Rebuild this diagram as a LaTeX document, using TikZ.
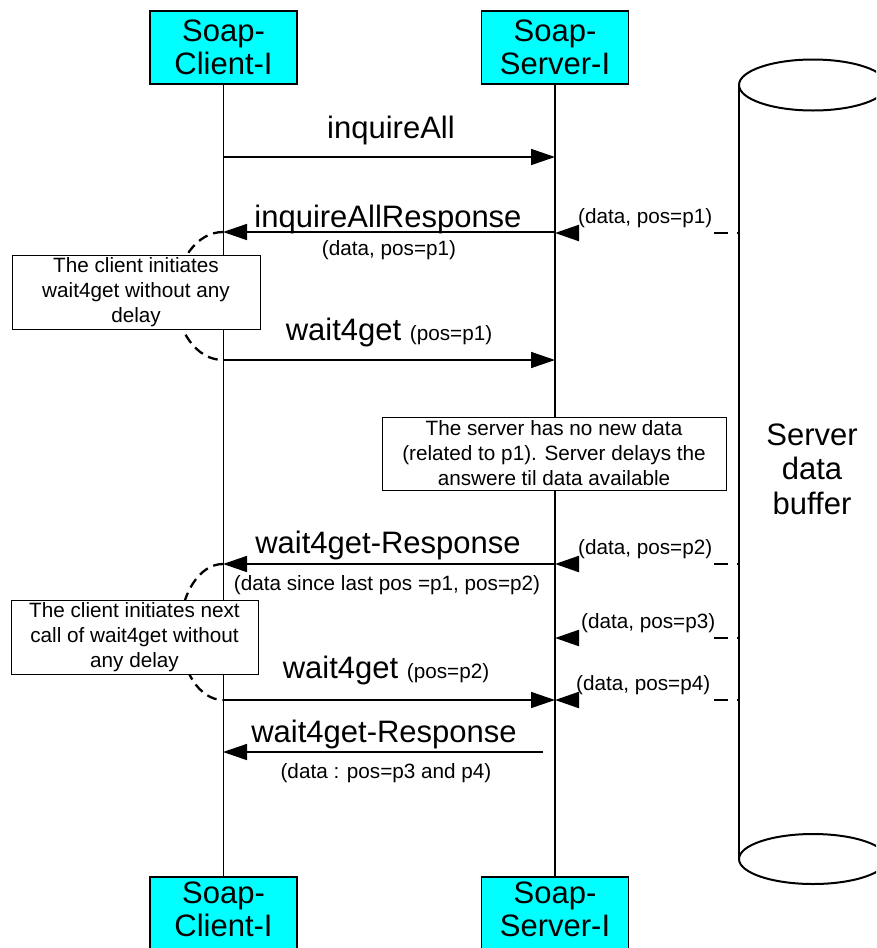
\documentclass[tikz,border=0pt]{standalone}
\usepackage{fontspec}
\setmainfont{Liberation Sans}
\usetikzlibrary{arrows.meta}
\definecolor{actorfill}{RGB}{0,255,255}
\newcommand{\bigtxt}{\fontsize{31}{36}\selectfont}
\newcommand{\smalltxt}{\fontsize{20.7}{25}\selectfont}
\begin{document}
\begin{tikzpicture}[x=1pt,y=-1pt,
  actor/.style={draw=black, line width=1.6pt, fill=actorfill, minimum width=147pt,
    minimum height=73pt, inner sep=0pt, align=center,
    font=\fontsize{31}{33.5}\selectfont},
  life/.style={line width=1.6pt},
  msg/.style={line width=1.6pt, -{Triangle[length=24pt,width=16pt]}},
  feed/.style={line width=2.2pt, dash pattern=on 2pt off 9pt on 14pt off 2000pt,
    -{Triangle[length=24pt,width=16pt]}},
  loopback/.style={line width=2.3pt, dash pattern=on 10pt off 6pt},
  note/.style={draw=black, line width=1pt, fill=white, inner sep=0pt,
    align=center, font=\smalltxt},
  lbl/.style={inner sep=0pt, anchor=base, font=\bigtxt},
  sublbl/.style={inner sep=0pt, anchor=base, font=\smalltxt},
  feedlbl/.style={inner sep=0pt, anchor=base west, font=\smalltxt},
  buf/.style={line width=2pt}
]
\useasboundingbox (0,0) rectangle (876,948);
\clip (0,0) rectangle (876,948);

% participants
\node[actor] (cltop) at (223.5,47.5) {Soap-\\Client-I};
\node[actor] (svtop) at (555,47.5) {Soap-\\Server-I};
\node[actor] (clbot) at (223.5,913.5) {Soap-\\Client-I\rule[-9pt]{0pt}{9pt}};
\node[actor] (svbot) at (555,913.5) {Soap-\\Server-I\rule[-9pt]{0pt}{9pt}};

% lifelines
\draw[life] (cltop.south) -- (clbot.north);
\draw[life] (svtop.south) -- (svbot.north);

% server data buffer (cylinder)
\coordinate (bufL1) at (739,85);
\coordinate (bufL2) at (739,859);
\draw[buf] (bufL1) -- (bufL2);
\draw[buf] (813,85) ellipse[x radius=74pt, y radius=25.5pt];
\draw[buf] (813,859) ellipse[x radius=74pt, y radius=25pt];
\node[align=center, inner sep=0pt, font=\fontsize{31}{34.5}\selectfont] (buftxt)
  at (812,469) {Server\\data\\buffer};

% points on the lifelines
\coordinate (c1) at (223,157);  \coordinate (s1) at (555,157);
\coordinate (c2) at (223,232);  \coordinate (s2) at (555,232);
\coordinate (c3) at (223,360);  \coordinate (s3) at (555,360);
\coordinate (c4) at (223,564);  \coordinate (s4) at (555,564);
\coordinate (c5) at (223,700);  \coordinate (s5) at (555,700);
\coordinate (c6) at (223,752);  \coordinate (s6) at (543,752);

% messages
\draw[msg] (c1) -- (s1);
\draw[msg] (s2) -- (c2);
\draw[msg] (c3) -- (s3);
\draw[msg] (s4) -- (c4);
\draw[msg] (c5) -- (s5);
\draw[msg] (s6) -- (c6);

\node[lbl] (l1) at (391,138) {inquireAll};
\node[lbl] (l2) at (388,227) {inquireAllResponse};
\node[sublbl] (l2b) at (389,255) {(data, pos=p1)};
\node[lbl] (l3) at (389,340) {wait4get {\smalltxt(pos=p1)}};
\node[lbl] (l4) at (388,553) {wait4get-Response};
\node[sublbl] (l4b) at (387,590) {(data since last pos =p1, pos=p2)};
\node[lbl] (l5) at (386,678) {wait4get {\smalltxt(pos=p2)}};
\node[lbl] (l6) at (384,742) {wait4get-Response};
\node[sublbl] (l6b) at (386,778) {(data : pos=p3 and p4)};

% data arriving from the buffer
\coordinate (b1) at (739,233); \coordinate (t1) at (555,233);
\coordinate (b2) at (739,564); \coordinate (t2) at (555,564);
\coordinate (b3) at (739,638); \coordinate (t3) at (555,638);
\coordinate (b4) at (739,700); \coordinate (t4) at (555,700);
\draw[feed] (b1) -- (t1);
\draw[feed] (b2) -- (t2);
\draw[feed] (b3) -- (t3);
\draw[feed] (b4) -- (t4);
\node[feedlbl] (f1) at (578,223) {(data, pos=p1)};
\node[feedlbl] (f2) at (578,554) {(data, pos=p2)};
\node[feedlbl] (f3) at (581,628) {(data, pos=p3)};
\node[feedlbl] (f4) at (576,690) {(data, pos=p4)};

% immediate re-call loops on the client
\draw[loopback] (c2) arc[start angle=90, end angle=270, x radius=47pt, y radius=64pt];
\draw[loopback] (c4) arc[start angle=90, end angle=270, x radius=43pt, y radius=68pt];

% notes
\node[note, minimum width=248pt, minimum height=74pt] (n1) at (136,292)
  {The client initiates\\wait4get without any\\delay};
\node[note, minimum width=247pt, minimum height=74pt] (n2) at (134.5,637)
  {The client initiates next\\call of wait4get without\\any delay};
\node[note, minimum width=344pt, minimum height=73pt] (n3) at (554,453.5)
  {The server has no new data\\(related to p1). Server delays the\\answere til data available};
\end{tikzpicture}
\end{document}
